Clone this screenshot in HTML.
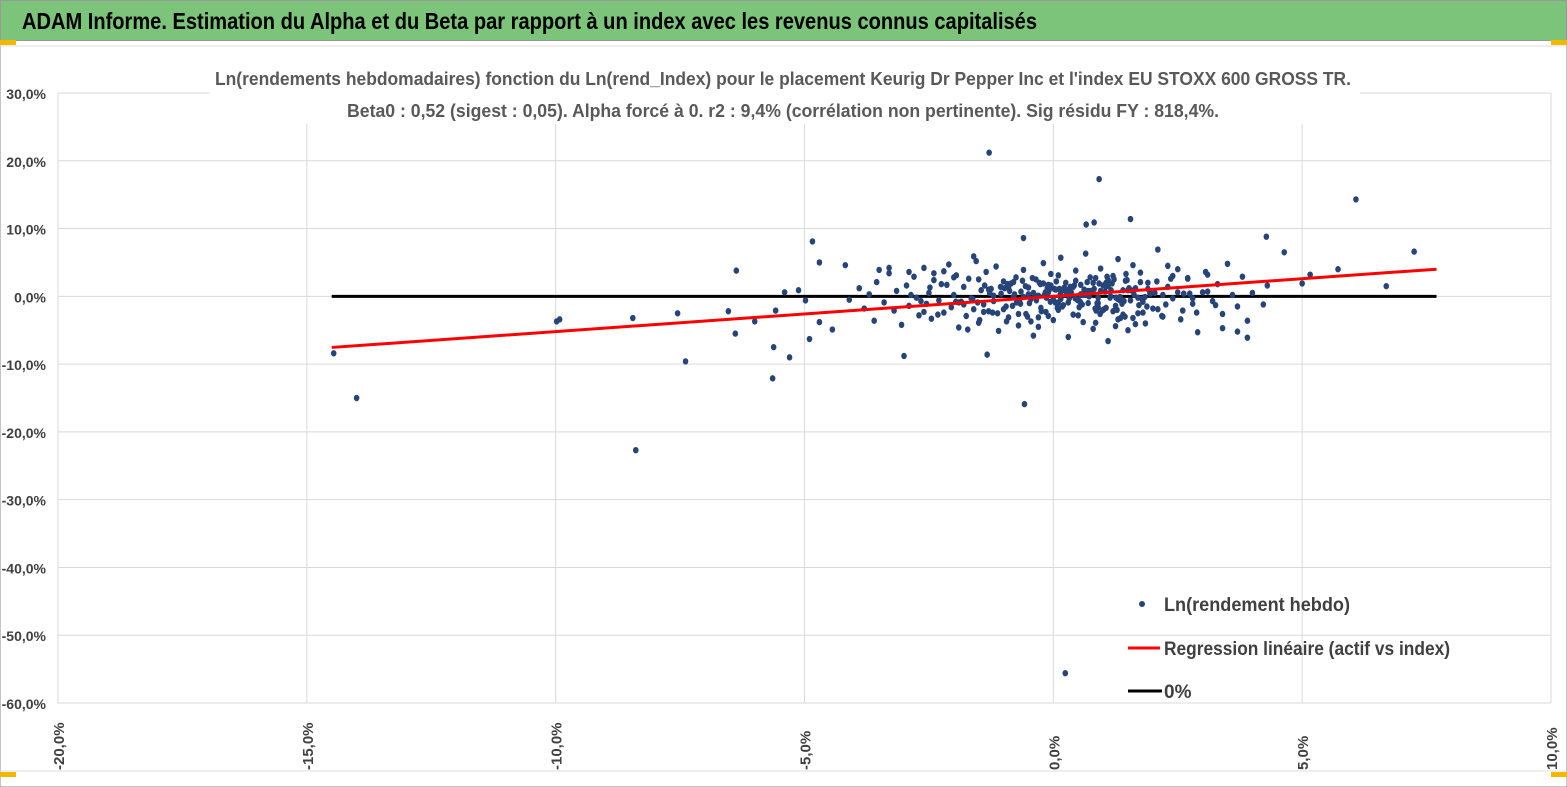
<!DOCTYPE html>
<html><head><meta charset="utf-8"><style>
html,body{margin:0;padding:0;background:#fff}
svg{display:block;font-family:"Liberation Sans",sans-serif}
</style></head><body>
<svg width="1567" height="787" viewBox="0 0 1567 787">
<rect x="0" y="0" width="1567" height="787" fill="#fff" stroke="#888" stroke-width="1"/>
<rect x="0.5" y="0.5" width="1566" height="40" fill="#7cc47a" stroke="#999"/>
<text x="22" y="29" font-size="23" font-weight="bold" fill="#000" textLength="1015" lengthAdjust="spacingAndGlyphs">ADAM Informe. Estimation du Alpha et du Beta par rapport à un index avec les revenus connus capitalisés</text>
<line x1="0" y1="46" x2="1567" y2="46" stroke="#ddd"/>
<rect x="0" y="40" width="16" height="5" fill="#f2b800"/>
<rect x="1551" y="40" width="16" height="5" fill="#f2b800"/>
<rect x="0" y="772" width="16" height="5" fill="#f2b800"/>
<rect x="1551" y="772" width="16" height="5" fill="#f2b800"/>
<line x1="0" y1="771" x2="1567" y2="771" stroke="#ddd"/>
<g id="grid"></g>
<g id="axes"></g>
<rect x="210" y="62" width="1150" height="62" fill="#fff"/>
<text x="783" y="85" text-anchor="middle" font-size="18" font-weight="bold" fill="#595959" textLength="1136" lengthAdjust="spacingAndGlyphs">Ln(rendements hebdomadaires) fonction du Ln(rend_Index) pour le placement Keurig Dr Pepper Inc et l'index EU STOXX 600 GROSS TR.</text>
<text x="783" y="117" text-anchor="middle" font-size="18" font-weight="bold" fill="#595959" textLength="872" lengthAdjust="spacingAndGlyphs">Beta0 : 0,52 (sigest : 0,05).  Alpha forcé à 0. r2 : 9,4% (corrélation non pertinente). Sig résidu FY : 818,4%.</text>
<g id="series"></g>
<g>
<circle cx="1142" cy="604" r="3" fill="#264478"/>
<text x="1164" y="611" font-size="19" font-weight="bold" fill="#404040" textLength="186" lengthAdjust="spacingAndGlyphs">Ln(rendement hebdo)</text>
<line x1="1128" y1="648" x2="1160" y2="648" stroke="#f00" stroke-width="3"/>
<text x="1164" y="655" font-size="19" font-weight="bold" fill="#404040" textLength="286" lengthAdjust="spacingAndGlyphs">Regression linéaire (actif vs index)</text>
<line x1="1128" y1="691" x2="1162" y2="691" stroke="#000" stroke-width="3"/>
<text x="1164" y="698" font-size="19" font-weight="bold" fill="#404040">0%</text>
</g>
</svg>
<script>
const xTicks=[-20,-15,-10,-5,0,5,10];
const yTicks=[30,20,10,0,-10,-20,-30,-40,-50,-60];
const beta=0.52;
const lineRange=[-14.5,7.7];
const idxReturns=[-14.46,-14.0,-9.98,-9.92,-8.45,-8.39,-7.55,-7.39,-6.53,-6.37,-6.39,-6.0,-5.64,-5.62,-5.58,-5.4,-5.3,-5.12,-4.98,-4.9,-4.84,-4.7,-4.7,-4.44,-4.18,-1.29,-0.58,0.24,0.92,1.55,6.08,6.69,7.25,4.28,4.64,5.16,5.72,5.0,-1.33,-3.0,0.66,0.82,-0.6,4.22,
-4.1,-3.9,-3.8,-3.7,-3.6,-3.55,-3.4,-3.3,-3.2,-3.15,-3.05,-2.95,-2.9,-2.8,-2.75,-2.7,-2.6,-2.55,-2.5,-2.45,-2.4,-2.3,-2.25,-2.2,-2.1,-2.05,-2.0,-1.95,-1.9,-1.85,-1.8,-1.75,-1.7,-1.65,-1.6,-1.55,-1.5,-1.45,-1.4,-1.35,-1.3,-1.25,-1.2,-1.15,-1.1,-1.05,-1.0,-0.95,-0.9,-0.85,-0.8,-0.75,-0.7,-0.65,-0.6,-0.55,-0.5,-0.45,-0.4,-0.35,-0.3,-0.25,-0.2,-0.15,-0.1,-0.05,0.0,0.05,0.1,0.15,0.2,0.25,0.3,0.35,0.4,0.45,0.5,0.55,0.6,0.65,0.7,0.75,0.8,0.85,0.9,0.95,1.0,1.05,1.1,1.15,1.2,1.25,1.3,1.35,1.4,1.45,1.5,1.55,1.6,1.65,1.7,1.75,1.8,1.85,1.9,1.95,2.0,2.1,2.2,2.3,2.4,2.5,2.6,2.7,2.8,2.9,3.0,3.1,3.2,3.3,3.4,3.5,3.6,3.7,3.8,3.9,4.0,4.3,
-2.6,-2.2,-1.9,-1.6,-1.3,-1.0,-0.8,-0.5,-0.3,-0.1,0.1,0.3,0.5,0.7,0.9,1.1,1.3,1.5,1.7,1.9,2.2,2.5,2.8,3.1,-1.2,-0.9,-0.6,-0.4,-0.2,0.0,0.2,0.4,0.6,0.8,1.0,1.2,1.4,1.6,1.8,2.1,-0.7,-0.3,0.1,0.5,0.9,1.3,-1.8,-1.4,-0.1,0.3,0.7,1.1,2.4,2.7,-2.4,-2.0,-1.5,-0.05,0.45,0.85,1.25,1.65,-0.45,0.15,0.55,0.95,1.35,1.75,2.3,-3.5,-3.3,-2.9,3.4,3.7,3.9,
-1.72,-1.48,-1.22,-0.98,-0.74,-0.52,-0.28,-0.06,0.12,0.34,0.58,0.76,0.98,1.18,1.42,1.62,1.88,2.08,-1.62,-1.38,-1.12,-0.88,-0.66,-0.42,-0.18,0.04,0.22,0.44,0.62,0.84,1.04,1.26,1.48,1.72,1.94,2.18,-0.92,-0.68,-0.36,-0.12,0.08,0.28,0.48,0.68,0.88,1.08,1.28,1.46,-2.32,-2.14,-1.96,2.36,2.56,2.74,-0.82,-0.56,-0.24,0.02,0.26,0.52,0.72,0.92,1.14,1.34,1.56,1.78,-1.06,-0.78,-0.48,-0.16,0.06,0.32,0.62,0.82,1.02,1.22,1.44,-2.86,-2.66,-2.48,2.62,2.88,3.06,3.26,-1.52,-1.28,-0.94,-0.62,-0.34,-0.08,0.18,0.42,0.66,0.86,1.06,1.32,1.52,1.84,2.04,2.26,-0.26,0.14,0.54,0.94,1.16,-0.14,0.36,0.74,1.06,1.38];
const assetReturns=[-8.4,-15.0,-3.7,-3.4,-3.2,-22.7,-2.5,-9.6,-2.2,3.8,-5.5,-3.7,-12.1,-7.5,-2.1,0.6,-9.0,0.9,-0.6,-6.3,8.1,5.0,-3.8,-4.9,4.6,21.2,-15.9,-55.6,17.3,11.4,14.3,1.5,6.6,8.8,6.5,3.2,4.0,1.9,-8.6,-8.8,10.6,10.9,8.6,-1.2,
-0.5,1.2,-1.8,0.3,-3.6,2.1,-0.9,3.4,-2.1,0.8,-4.2,1.6,-1.4,2.9,-0.2,-2.8,4.2,-1.1,0.5,-3.3,2.4,-0.6,1.8,-2.4,4.7,-1.6,0.2,3.1,-4.6,-0.8,1.4,-2.9,2.6,-0.3,-1.9,5.2,-3.9,0.9,-1.2,3.6,-2.2,1.1,-0.7,4.4,-5.1,0.4,2.2,-1.5,-3.1,1.9,-0.1,2.8,-4.3,0.7,3.9,-2.6,1.3,-0.4,-5.8,2.5,0.1,-1.7,4.9,-2.3,0.6,3.3,-3.5,1.0,-0.9,5.7,-1.3,2.0,-6.0,0.3,-2.7,3.8,-0.5,1.7,-3.8,6.3,-1.0,0.8,-4.8,2.7,-0.2,4.1,-2.0,1.5,-6.6,0.0,3.0,-1.4,5.5,-3.2,0.9,2.3,-5.0,-0.6,4.6,1.2,-2.5,3.5,-0.8,-4.0,2.0,0.4,-1.8,6.9,-3.0,1.4,-0.3,4.0,-2.1,2.6,-1.1,-5.3,0.6,3.2,-0.7,1.8,-2.6,4.8,0.2,-1.5,2.9,-3.6,0.5,1.6,-2.3,3.7,-0.9,5.9,1.0,-1.9,2.1,0.3,-4.5,1.7,3.1,
0.4,-0.6,0.8,-1.0,1.5,-0.4,0.9,-0.2,1.1,0.2,0.6,-0.3,0.7,0.1,1.3,-0.1,0.5,1.9,-0.5,0.9,1.4,0.2,2.0,1.6,-2.2,-2.7,-3.2,-2.4,-1.9,-2.6,-3.1,-2.0,-2.8,-1.6,-3.4,-1.2,-2.3,-2.9,-0.9,0.1,2.4,3.0,2.7,3.4,2.8,2.5,1.6,2.3,-3.9,-4.4,-4.1,-3.7,-0.4,0.3,0.8,-0.6,2.1,4.5,3.9,4.2,3.6,-4.7,-5.2,-6.1,-4.9,-3.5,-2.4,1.2,-0.9,-3.0,2.0,-0.8,1.1,
1.4,-1.2,0.6,-2.1,1.9,-0.7,0.3,-1.5,2.2,-0.4,1.6,-2.5,0.8,-1.1,2.7,0.2,-0.9,1.3,-0.3,1.0,-1.8,0.7,-0.2,2.4,-1.3,0.5,-2.9,1.8,-0.6,0.1,1.2,-1.7,0.9,-0.5,2.1,-1.0,2.9,-2.0,3.3,-2.7,1.7,-0.8,2.6,-3.4,0.4,-1.4,1.5,-2.2,1.1,0.6,-1.6,0.0,1.9,-0.2,-0.1,0.9,-0.4,1.4,0.3,-1.0,0.6,2.2,-0.3,0.8,1.1,-1.9,2.5,-3.0,0.2,-0.7,1.3,0.4,-2.4,3.6,-1.3,-0.9,0.5,-3.7,2.3,-0.6,1.0,-1.5,1.6,0.7,-2.1,2.0,-0.5,1.2,-0.1,0.5,-1.2,1.8,0.3,-0.8,-2.6,0.9,-0.2,0.6,2.8,-1.7,-1.1,1.5,-0.4,0.2,-0.7,0.1,1.1];

const X0=58,X1=1551,Y0=93,Y1=703;
const sx=v=>X0+(v-xTicks[0])/(xTicks[xTicks.length-1]-xTicks[0])*(X1-X0);
const sy=v=>Y0+(yTicks[0]-v)/(yTicks[0]-yTicks[yTicks.length-1])*(Y1-Y0);
const NS="http://www.w3.org/2000/svg";
const grid=document.getElementById('grid'),axes=document.getElementById('axes'),series=document.getElementById('series');
function mk(tag,attrs){const e=document.createElementNS(NS,tag);for(const k in attrs)e.setAttribute(k,attrs[k]);return e;}
yTicks.forEach(t=>{
  const l=mk('line',{x1:X0,x2:X1,y1:sy(t),y2:sy(t),stroke:'#d9d9d9','stroke-width':1});
  
  
  grid.appendChild(l);
  const tx=mk('text',{x:46,y:sy(t)+6,'text-anchor':'end','font-size':14,'font-weight':'bold',fill:'#404040'});
  tx.textContent=t.toFixed(1).replace('.',',')+'%';
  
  
  axes.appendChild(tx);
});
xTicks.forEach(t=>{
  const l=mk('line',{x1:sx(t),x2:sx(t),y1:Y0,y2:Y1,stroke:'#d9d9d9','stroke-width':1});
  
  
  grid.appendChild(l);
  const x=sx(t)+6,y=770;
  const tx=mk('text',{x:x,y:y,'font-size':15,'font-weight':'bold',fill:'#404040',transform:`rotate(-90 ${x} ${y})`});
  tx.textContent=t.toFixed(1).replace('.',',')+'%';
  
  
  axes.appendChild(tx);
});
const zl=mk('line',{x1:sx(lineRange[0]),x2:sx(lineRange[1]),y1:sy(0),y2:sy(0),stroke:'#000','stroke-width':3});


series.appendChild(zl);
const rl=mk('line',{x1:sx(lineRange[0]),x2:sx(lineRange[1]),y1:sy(beta*lineRange[0]),y2:sy(beta*lineRange[1]),stroke:'#f00','stroke-width':3});


for(let i=0;i<idxReturns.length;i++){
  const c=mk('ellipse',{cx:sx(idxReturns[i]),cy:sy(assetReturns[i]),rx:2.8,ry:3.2,fill:'#264478'});
  
  
  series.appendChild(c);
}
series.appendChild(rl);
</script>
</body></html>
